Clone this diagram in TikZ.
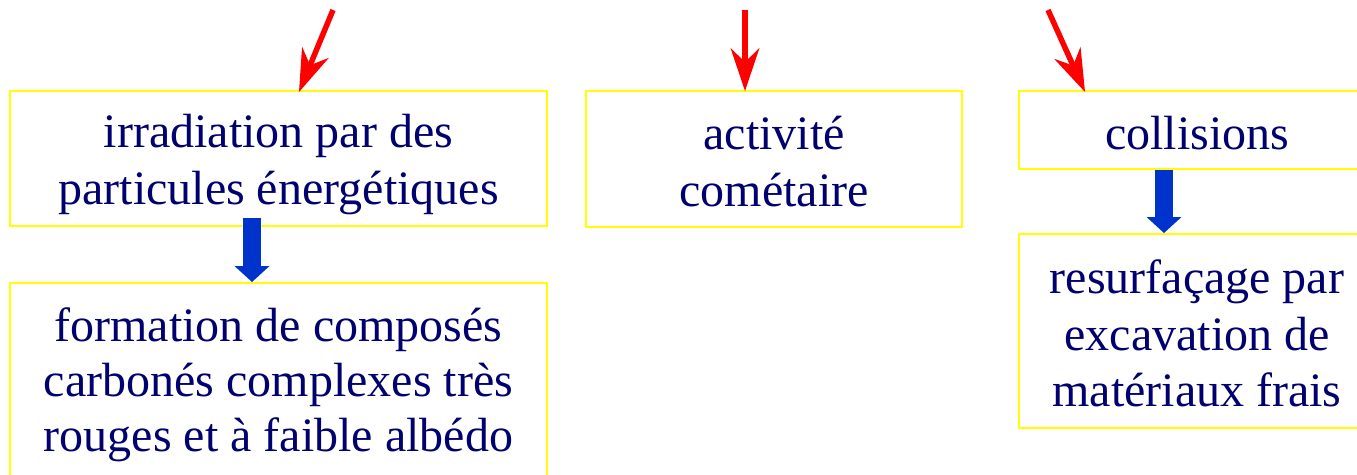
\documentclass[tikz,border=0pt]{standalone}
\usepackage{fontspec}
\setmainfont{Liberation Serif}
\usetikzlibrary{arrows.meta}
\definecolor{navy}{RGB}{0,0,110}
\definecolor{boxyellow}{RGB}{255,255,0}
\definecolor{arrowblue}{RGB}{0,51,204}
\begin{document}
\begin{tikzpicture}[x=1pt,y=-1pt,
  box/.style={draw=boxyellow, line width=2.8pt, inner sep=0pt},
  boxtext/.style={inner sep=0pt, align=center, text=navy},
  redarrow/.style={draw=red, line width=5.5pt, -{Stealth[length=43pt,width=29pt,inset=14pt,line width=0pt]}},
  bluearrow/.style={draw=arrowblue, line width=18pt, -{Triangle[length=16pt,width=35pt,line width=0pt]}}]
\useasboundingbox (0,0) rectangle (1357,474);
\clip (0,0) rectangle (1357,474);
\node[box, minimum width=537pt, minimum height=135pt] (b1) at (278.5,158.5) {};
\node[boxtext, yshift=-6.5pt, font=\fontsize{48}{57}\selectfont] (l1) at (b1.center) {irradiation par des\\particules énergétiques};
\node[box, minimum width=537pt, minimum height=200pt] (b2) at (278.5,383) {};
\node[boxtext, yshift=-1.5pt, font=\fontsize{48}{55}\selectfont] (l2) at (b2.center) {formation de composés\\carbonés complexes très\\rouges et à faible albédo};
\node[box, minimum width=376pt, minimum height=136pt] (b3) at (774,159) {};
\node[boxtext, yshift=-3pt, font=\fontsize{48}{57}\selectfont] (l3) at (b3.center) {activité\\cométaire};
\node[box, minimum width=356pt, minimum height=78pt] (b4) at (1197,130) {};
\node[boxtext, yshift=-3.5pt, font=\fontsize{48}{57}\selectfont] (l4) at (b4.center) {collisions};
\node[box, minimum width=356pt, minimum height=194pt] (b5) at (1197,331) {};
\node[boxtext, yshift=-2.5pt, font=\fontsize{48}{56.5}\selectfont] (l5) at (b5.center) {resurfaçage par\\excavation de\\matériaux frais};
\coordinate (s1) at (333,10);
\coordinate (t1) at (299,92);
\coordinate (s2) at (745,10);
\coordinate (t2) at (745,91);
\coordinate (s3) at (1048,10);
\coordinate (t3) at (1085,92);
\draw[redarrow] (s1) -- (t1);
\draw[redarrow] (s2) -- (t2);
\draw[redarrow] (s3) -- (t3);
\coordinate (u1) at (252,218);
\coordinate (v1) at (252,282);
\coordinate (u2) at (1164,170);
\coordinate (v2) at (1164,233);
\draw[bluearrow] (u1) -- (v1);
\draw[bluearrow] (u2) -- (v2);
\end{tikzpicture}
\end{document}
